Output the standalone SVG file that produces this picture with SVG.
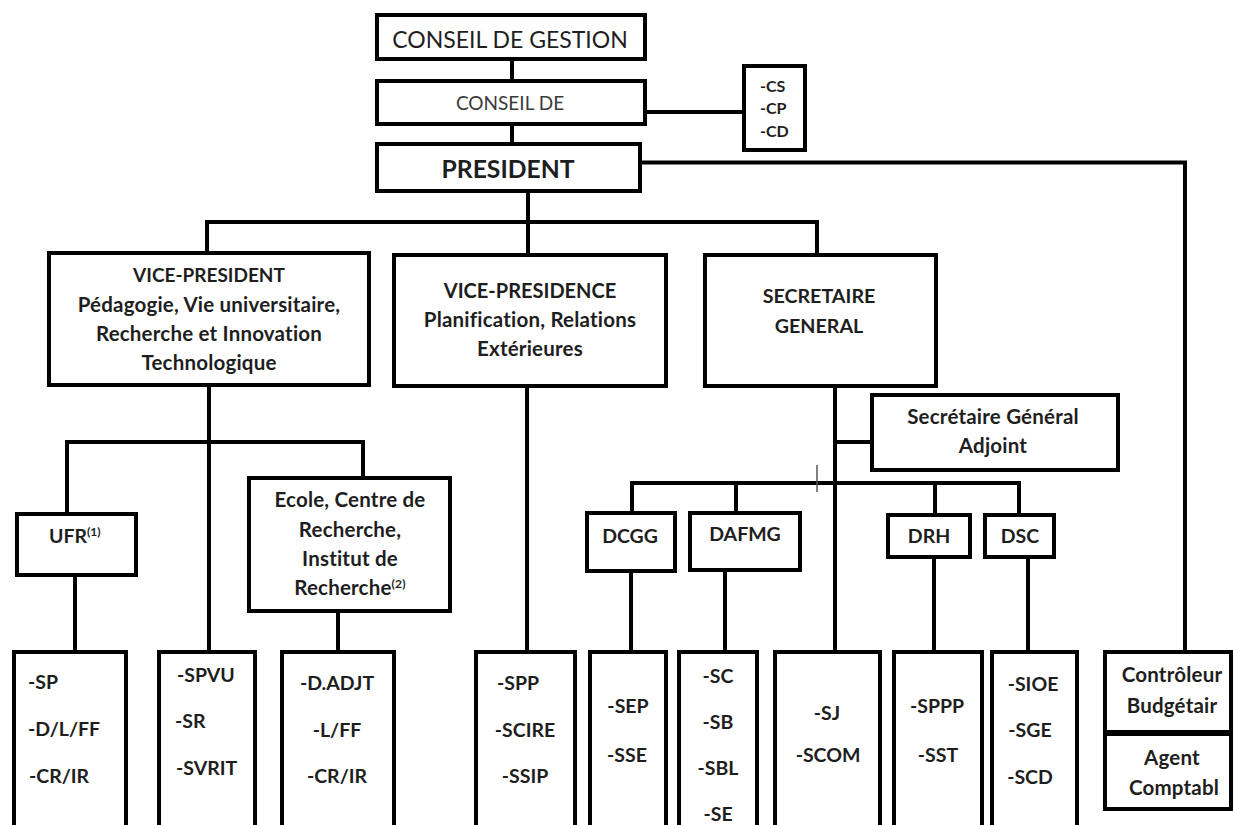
<svg xmlns="http://www.w3.org/2000/svg" width="1233" height="825" viewBox="0 0 1233 825">
<style>
.box{fill:#fff;stroke:#000;stroke-width:4}
.ln{stroke:#000;stroke-width:4;fill:none;stroke-linecap:square}
.t{font-family:Lato,"Liberation Sans",sans-serif;font-weight:bold;fill:#1e1e1e;text-anchor:middle;font-size:19px}
.m{font-size:20.5px;letter-spacing:0.2px}
.r{font-weight:normal}
.l{text-anchor:start}
.s{font-size:19.5px}
</style>
<rect width="1233" height="825" fill="#fff"/>
<g id="connectors">
<path class="ln" d="M512,59V81M512,124V144M645,112H744"/>
<path class="ln" d="M640,162.5H1185V652"/>
<path class="ln" d="M528,191V222M207,222H817M207,222V253M528,222V255M817,222V255"/>
<path class="ln" d="M209,385V652M67,442H363M67,442V514M363,442V478M75,575V652M338,611V652"/>
<path class="ln" d="M527,386V652"/>
<path class="ln" d="M835,386V652M835,442H872M632,483H1019M632,483V513M736,483V513M935,483V515M1019,483V515"/>
<path d="M817,465V492" stroke="#555" stroke-width="1.5"/>
<path class="ln" d="M631,571V652M725,570V652M934,557V652M1028,557V652"/>
</g>
<g id="conseil-gestion"><rect class="box" x="377" y="15" width="268" height="44"/><text class="t r" x="510" y="48" style="font-size:23px">CONSEIL DE GESTION</text></g>
<g id="conseil-de"><rect class="box" x="377" y="81" width="268" height="43"/><text class="t r" x="510" y="110" style="font-size:19px;fill:#3a3a3a">CONSEIL DE</text></g>
<g id="conseils"><rect class="box" x="744" y="66" width="61" height="84"/><text class="t l" x="760" y="92" style="font-size:16px">-CS</text><text class="t l" x="760" y="114" style="font-size:16px">-CP</text><text class="t l" x="760" y="137" style="font-size:16px">-CD</text></g>
<g id="president"><rect class="box" x="377" y="144" width="263" height="47"/><text class="t" x="508" y="178" style="font-size:24.7px">PRESIDENT</text></g>
<g id="vice-president"><rect class="box" x="49" y="253" width="320" height="132"/>
<text class="t" x="209" y="282">VICE-PRESIDENT</text><text class="t m" x="209" y="312">Pédagogie, Vie universitaire,</text><text class="t m" x="209" y="341">Recherche et Innovation</text><text class="t m" x="209" y="370">Technologique</text></g>
<g id="vice-presidence"><rect class="box" x="394" y="255" width="272" height="131"/>
<text class="t" x="530" y="298" style="font-size:20px">VICE-PRESIDENCE</text><text class="t m" x="530" y="327">Planification, Relations</text><text class="t m" x="530" y="356">Extérieures</text></g>
<g id="secretaire-general"><rect class="box" x="705" y="255" width="231" height="131"/>
<text class="t" x="819" y="303" style="font-size:19.7px">SECRETAIRE</text><text class="t" x="819" y="333" style="font-size:19.7px">GENERAL</text></g>
<g id="sg-adjoint"><rect class="box" x="872" y="395" width="246" height="75"/>
<text class="t m" x="993" y="424">Secrétaire Général</text><text class="t m" x="993" y="453">Adjoint</text></g>
<g id="ufr"><rect class="box" x="17" y="514" width="119" height="61"/><text class="t l" x="49" y="543" style="font-size:19.5px">UFR<tspan font-size="12" dy="-7">(1)</tspan></text></g>
<g id="ecole"><rect class="box" x="249" y="478" width="201" height="133"/>
<text class="t m" x="350" y="507">Ecole, Centre de</text><text class="t m" x="350" y="537">Recherche,</text><text class="t m" x="350" y="566">Institut de</text><text class="t m" x="350" y="595">Recherche<tspan font-size="12" dy="-7">(2)</tspan></text></g>
<g id="dcgg"><rect class="box" x="587" y="513" width="88" height="58"/><text class="t s" x="630" y="543">DCGG</text></g>
<g id="dafmg"><rect class="box" x="690" y="513" width="110" height="57"/><text class="t s" x="745" y="541">DAFMG</text></g>
<g id="drh"><rect class="box" x="888" y="515" width="82" height="42"/><text class="t s" x="929" y="543">DRH</text></g>
<g id="dsc"><rect class="box" x="985" y="515" width="69" height="42"/><text class="t s" x="1020" y="543">DSC</text></g>
<g id="sp"><rect class="box" x="14" y="652" width="112" height="200"/><text class="t s l" x="28" y="689">-SP</text><text class="t s l" x="28" y="736">-D/L/FF</text><text class="t s l" x="29" y="783">-CR/IR</text></g>
<g id="spvu"><rect class="box" x="159" y="652" width="96" height="200"/><text class="t s l" x="177" y="682">-SPVU</text><text class="t s l" x="175" y="728">-SR</text><text class="t s l" x="176" y="775">-SVRIT</text></g>
<g id="dadjt"><rect class="box" x="282" y="652" width="112" height="200"/><text class="t s" x="337" y="690">-D.ADJT</text><text class="t s" x="337" y="737">-L/FF</text><text class="t s" x="337" y="783">-CR/IR</text></g>
<g id="spp"><rect class="box" x="476" y="652" width="99" height="200"/><text class="t s" x="518" y="690">-SPP</text><text class="t s" x="525" y="737">-SCIRE</text><text class="t s" x="525" y="783">-SSIP</text></g>
<g id="sep"><rect class="box" x="590" y="652" width="76" height="200"/><text class="t s" x="628" y="713">-SEP</text><text class="t s" x="627" y="762">-SSE</text></g>
<g id="sc"><rect class="box" x="679" y="652" width="78" height="200"/><text class="t s" x="718" y="683">-SC</text><text class="t s" x="718" y="729">-SB</text><text class="t s" x="718" y="775">-SBL</text><text class="t s" x="718" y="821">-SE</text></g>
<g id="sj"><rect class="box" x="775" y="652" width="105" height="200"/><text class="t s" x="827" y="720">-SJ</text><text class="t s" x="828" y="762">-SCOM</text></g>
<g id="sppp"><rect class="box" x="894" y="652" width="88" height="200"/><text class="t s" x="937" y="713">-SPPP</text><text class="t s" x="938" y="762">-SST</text></g>
<g id="sioe"><rect class="box" x="992" y="652" width="85" height="200"/><text class="t s" x="1033" y="691">-SIOE</text><text class="t s" x="1030" y="737">-SGE</text><text class="t s" x="1030" y="784">-SCD</text></g>
<g id="controleur"><rect class="box" x="1105" y="652" width="126" height="80"/><text class="t m" x="1172" y="682">Contrôleur</text><text class="t m" x="1172" y="713">Budgétair</text></g>
<g id="agent"><rect class="box" x="1105" y="734" width="126" height="75"/><text class="t m" x="1172" y="765">Agent</text><text class="t m" x="1174" y="795">Comptabl</text></g>
</svg>
